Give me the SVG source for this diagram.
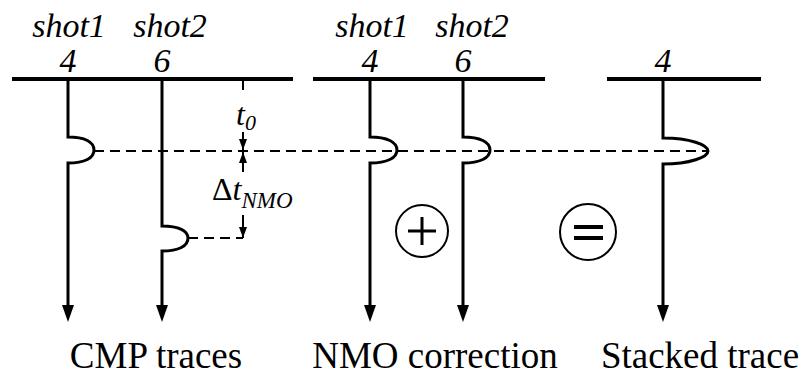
<svg xmlns="http://www.w3.org/2000/svg" width="808" height="377" viewBox="0 0 808 377">
<defs>
<marker id="ah" viewBox="0 0 17 12" refX="3" refY="6" markerWidth="17" markerHeight="12" markerUnits="userSpaceOnUse" orient="auto">
<path d="M0,0 L17,6 L0,12 Z" fill="#000"/>
</marker>
<marker id="sh" viewBox="0 0 11 8" refX="11" refY="4" markerWidth="11" markerHeight="8" markerUnits="userSpaceOnUse" orient="auto">
<path d="M0,0 L11,4 L0,8 Z" fill="#000"/>
</marker>
</defs>
<g id="connectors" fill="none" stroke="#000" stroke-width="2">
<path stroke-dasharray="10 6" d="M94,151 H708"/>
<path stroke-dasharray="10 6" d="M188,238 H243"/>
<path d="M243,80 V90"/>
<path d="M243,132 V150" marker-end="url(#sh)"/>
<path d="M243,172 V152" marker-end="url(#sh)"/>
<path d="M243,215 V238" marker-end="url(#sh)"/>
</g>
<g id="cmp">
<path fill="none" stroke="#000" stroke-width="4" d="M12,79 H293"/>
<path fill="none" stroke="#000" stroke-width="3" d="M68,79 V137 C85,137 94,142 94,150 C94,158 85,163 68,163 V308" marker-end="url(#ah)"/>
<path fill="none" stroke="#000" stroke-width="3" d="M162,79 V226 C179,226 188,231 188,238 C188,246 179,251 162,251 V308" marker-end="url(#ah)"/>
<text x="69" y="37" font-size="34" text-anchor="middle" font-family="Liberation Serif" font-style="italic">shot1</text>
<text x="170" y="37" font-size="34" text-anchor="middle" font-family="Liberation Serif" font-style="italic">shot2</text>
<text x="68" y="72" font-size="34" text-anchor="middle" font-family="Liberation Serif" font-style="italic">4</text>
<text x="162" y="72" font-size="34" text-anchor="middle" font-family="Liberation Serif" font-style="italic">6</text>
<text x="156" y="368" font-size="37" text-anchor="middle" font-family="Liberation Serif">CMP traces</text>
</g>
<g id="labels">
<text x="236" y="125" font-size="32" font-family="Liberation Serif" font-style="italic">t<tspan font-size="22" dy="5">0</tspan></text>
<text x="212" y="200" font-size="32" font-family="Liberation Serif">Δ<tspan font-style="italic">t</tspan><tspan font-style="italic" font-size="23" dy="8">NMO</tspan></text>
</g>
<g id="nmo">
<path fill="none" stroke="#000" stroke-width="4" d="M313,79 H545"/>
<path fill="none" stroke="#000" stroke-width="3" d="M370,79 V137 C387,137 397,142 397,150 C397,158 387,163 370,163 V308" marker-end="url(#ah)"/>
<path fill="none" stroke="#000" stroke-width="3" d="M463,79 V137 C480,137 490,142 490,150 C490,158 480,163 463,163 V308" marker-end="url(#ah)"/>
<text x="372" y="37" font-size="34" text-anchor="middle" font-family="Liberation Serif" font-style="italic">shot1</text>
<text x="472" y="37" font-size="34" text-anchor="middle" font-family="Liberation Serif" font-style="italic">shot2</text>
<text x="370" y="72" font-size="34" text-anchor="middle" font-family="Liberation Serif" font-style="italic">4</text>
<text x="463" y="72" font-size="34" text-anchor="middle" font-family="Liberation Serif" font-style="italic">6</text>
<text x="435" y="368" font-size="37" text-anchor="middle" font-family="Liberation Serif">NMO correction</text>
</g>
<g id="plus">
<circle cx="422" cy="231" r="26" fill="none" stroke="#000" stroke-width="2"/>
<path d="M408,231 H436 M422,217 V245" stroke="#000" stroke-width="3"/>
</g>
<g id="equals">
<circle cx="588" cy="232" r="28" fill="none" stroke="#000" stroke-width="2"/>
<path d="M574,227 H603 M574,238 H603" stroke="#000" stroke-width="4"/>
</g>
<g id="stacked">
<path fill="none" stroke="#000" stroke-width="4" d="M607,79 H761"/>
<path fill="none" stroke="#000" stroke-width="3" d="M663,79 V138 C690,138 708,145 708,151 C708,157 690,164 663,164 V308" marker-end="url(#ah)"/>
<text x="663" y="72" font-size="34" text-anchor="middle" font-family="Liberation Serif" font-style="italic">4</text>
<text x="700" y="368" font-size="37" text-anchor="middle" font-family="Liberation Serif">Stacked trace</text>
</g>
</svg>
